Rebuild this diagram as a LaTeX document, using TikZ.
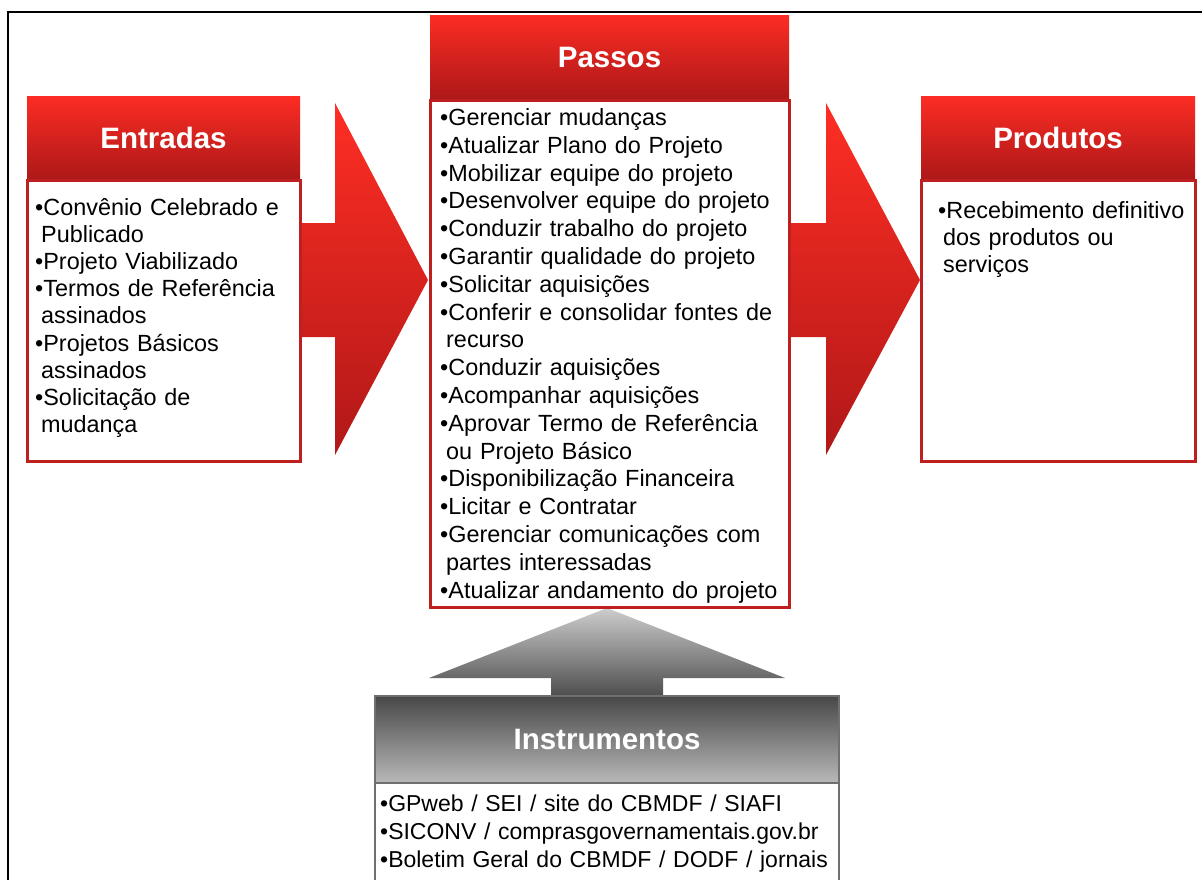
\documentclass[tikz,border=0pt]{standalone}
\usepackage{fontspec}
\setmainfont{Liberation Sans}
\definecolor{redTop}{RGB}{252,44,36}
\definecolor{redBot}{RGB}{172,24,24}
\definecolor{arrTop}{RGB}{255,46,36}
\definecolor{arrBot}{RGB}{176,24,24}
\definecolor{redLine}{RGB}{190,32,32}
\definecolor{grayTop}{RGB}{205,205,205}
\definecolor{grayBot}{RGB}{72,72,72}
\definecolor{grayLine}{RGB}{112,112,112}
\tikzset{
  hdr/.style={shade, top color=redTop, bottom color=redBot, inner sep=0pt,
    text=white, font=\fontsize{29.5}{30}\selectfont\bfseries},
  bodybox/.style={draw=redLine, line width=3pt, fill=white, inner sep=0pt},
  ghdr/.style={shade, top color=grayBot, bottom color=grayTop!90!black, draw=grayLine, line width=2pt, inner sep=0pt,
    text=white, font=\fontsize{29.5}{30}\selectfont\bfseries},
  gbody/.style={draw=grayLine, line width=2pt, fill=white, inner sep=0pt},
  txt/.style={anchor=base west, inner sep=0pt, align=left, text width=700pt,
    font=\fontsize{23.4}{27.8}\selectfont},
  redarrow/.style={shade, top color=arrTop, bottom color=arrBot},
  grayarrow/.style={shade, top color=grayTop, bottom color=grayBot},
}
\begin{document}
\begin{tikzpicture}[x=1pt,y=-1pt]
\hyphenpenalty=10000
\path[use as bounding box, clip] (0,0) rectangle (1202,879);
\fill[white] (0,0) rectangle (1202,879);
% outer frame
\coordinate (fa) at (8,900);
\coordinate (fb) at (8,12);
\coordinate (fc) at (1210,12);
\draw[line width=2.6pt, black] (fa) -- (fb) -- (fc);

% arrows
\path[redarrow] (290,223) -- (335,223) -- (335,103) -- (428,280) -- (335,455) -- (335,337) -- (290,337) -- cycle;
\path[redarrow] (780,223) -- (826,223) -- (826,103) -- (920,280) -- (826,455) -- (826,337) -- (780,337) -- cycle;
\path[grayarrow] (551,700) -- (551,678) -- (429,678) -- (607,608) -- (785,678) -- (663,678) -- (663,700) -- cycle;

% Entradas
\node[bodybox, minimum width=273pt, minimum height=281pt] (entB) at (163.5,320.5) {};
\node[hdr, minimum width=273pt, minimum height=84pt] (entH) at (163.5,138) {Entradas};
\draw[redLine, line width=2pt] (entH.south west) -- (entH.south east);
\node[txt, font=\fontsize{23.4}{27.1}\selectfont] (entT) at (35,215.5) {\textbullet Convênio Celebrado e\\\hspace*{6pt}Publicado\\\textbullet Projeto Viabilizado\\\textbullet Termos de Referência\\\hspace*{6pt}assinados\\\textbullet Projetos Básicos\\\hspace*{6pt}assinados\\\textbullet Solicitação de\\\hspace*{6pt}mudança};

% Passos
\node[bodybox, minimum width=359pt, minimum height=507pt] (pasB) at (609.5,353.5) {};
\node[hdr, minimum width=359pt, minimum height=85pt] (pasH) at (609.5,57.5) {Passos};
\draw[redLine, line width=2pt] (pasH.south west) -- (pasH.south east);
\node[txt] (pasT) at (440,125.5) {\textbullet Gerenciar mudanças\\\textbullet Atualizar Plano do Projeto\\\textbullet Mobilizar equipe do projeto\\\textbullet Desenvolver equipe do projeto\\\textbullet Conduzir trabalho do projeto\\\textbullet Garantir qualidade do projeto\\\textbullet Solicitar aquisições\\\textbullet Conferir e consolidar fontes de\\\hspace*{6pt}recurso\\\textbullet Conduzir aquisições\\\textbullet Acompanhar aquisições\\\textbullet Aprovar Termo de Referência\\\hspace*{6pt}ou Projeto Básico\\\textbullet Disponibilização Financeira\\\textbullet Licitar e Contratar\\\textbullet Gerenciar comunicações com\\\hspace*{6pt}partes interessadas\\\textbullet Atualizar andamento do projeto};

% Produtos
\node[bodybox, minimum width=274pt, minimum height=281pt] (proB) at (1058,320.5) {};
\node[hdr, minimum width=274pt, minimum height=84pt] (proH) at (1058,138) {Produtos};
\draw[redLine, line width=2pt] (proH.south west) -- (proH.south east);
\node[txt, font=\fontsize{23.4}{27}\selectfont] (proT) at (938,218.5) {\textbullet Recebimento definitivo\\\hspace*{5pt}dos produtos ou\\\hspace*{5pt}serviços};

% Instrumentos
\node[gbody, minimum width=464pt, minimum height=140pt] (insB) at (607,853) {};
\node[ghdr, minimum width=464pt, minimum height=87pt] (insH) at (607,739.5) {Instrumentos};
\node[txt, font=\fontsize{23}{28}\selectfont] (insT) at (380,811) {\textbullet GPweb / SEI / site do CBMDF / SIAFI\\\textbullet SICONV / comprasgovernamentais.gov.br\\\textbullet Boletim Geral do CBMDF / DODF / jornais};
\end{tikzpicture}
\end{document}
